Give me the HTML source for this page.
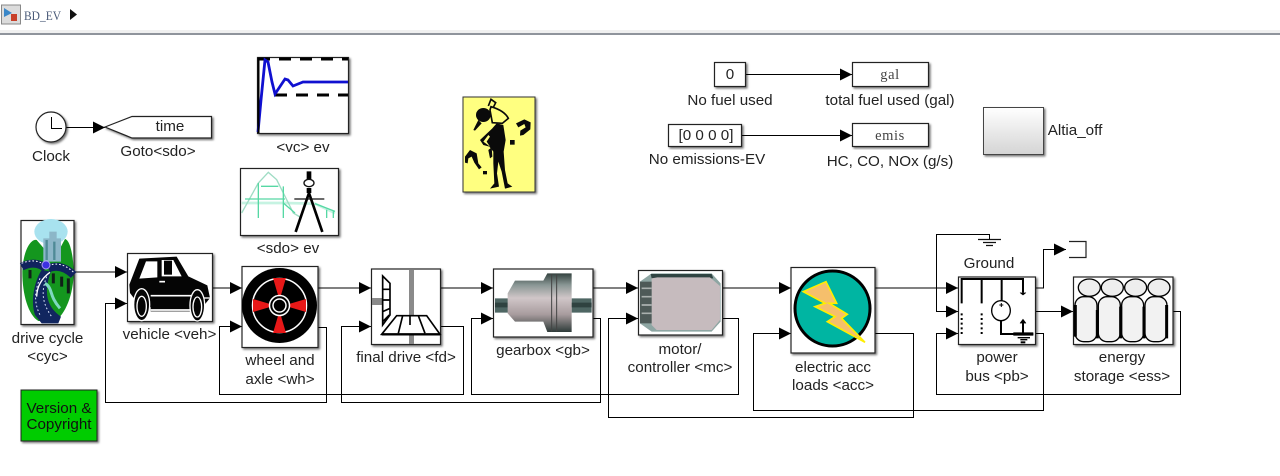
<!DOCTYPE html>
<html><head><meta charset="utf-8"><style>
html,body{margin:0;padding:0;background:#fff;width:1280px;height:476px;overflow:hidden}
svg{display:block}
text{font-family:"Liberation Sans",sans-serif;font-size:15.2px;fill:#222;text-anchor:middle}
.w{fill:none;stroke:#000;stroke-width:1}
.b{stroke:#222;stroke-width:1.2;fill:#fff;filter:url(#s)}
.r{font-family:"Liberation Serif",serif;font-size:14.5px;fill:#444;letter-spacing:.6px}
</style></head><body>
<svg width="1280" height="476" viewBox="0 0 1280 476" xmlns="http://www.w3.org/2000/svg">
<defs>
<filter id="s" x="-10%" y="-10%" width="125%" height="125%"><feDropShadow dx="1.5" dy="1.5" stdDeviation="1" flood-color="#000" flood-opacity=".55"/></filter>
<linearGradient id="g" x1="0" y1="0" x2="0" y2="1"><stop offset="0" stop-color="#fff"/><stop offset="1" stop-color="#d4d4d4"/></linearGradient>
<linearGradient id="gb" x1="0" y1="0" x2="0" y2="1"><stop offset="0" stop-color="#33423f"/><stop offset=".2" stop-color="#8a9795"/><stop offset=".42" stop-color="#d0c6c8"/><stop offset=".7" stop-color="#a89c9e"/><stop offset="1" stop-color="#2e3b39"/></linearGradient>
<marker id="a" markerWidth="12" markerHeight="12" refX="12" refY="6" orient="auto" markerUnits="userSpaceOnUse"><path d="M0,0L12,6L0,12Z" fill="#000"/></marker>
</defs>

<!-- toolbar -->
<rect x="0" y="30" width="1280" height="3" fill="#f0f0f0"/>
<rect x="0" y="33" width="1280" height="2" fill="#8f949c"/>
<rect x="1.500" y="5" width="19" height="19" fill="#dcdcdc" stroke="#888"/>
<path d="M4,8L12,13L4,17Z" fill="#3a87c8"/><rect x="11" y="14" width="6" height="7" fill="#c8402a"/>
<text x="24" y="20" textLength="37" lengthAdjust="spacingAndGlyphs" style="font-family:'Liberation Serif',serif;font-size:13px;fill:#4a5a78;text-anchor:start">BD_EV</text>
<path d="M70,9L77,14.500L70,20Z" fill="#111"/>

<!-- wires -->
<g class="w">
<path d="M66,127.500H105" marker-end="url(#a)"/>
<path d="M74,272H127" marker-end="url(#a)"/>
<path d="M318,327.500H326.500V402.500H105.500V303.500H127" marker-end="url(#a)"/>
<path d="M212,288H242" marker-end="url(#a)"/>
<path d="M440,326.500H463.500V394.500H219.500V326.500H242" marker-end="url(#a)"/>
<path d="M318,288H371" marker-end="url(#a)"/>
<path d="M593,318.500H600.500V402.500H341.500V326.500H371" marker-end="url(#a)"/>
<path d="M440,288H493" marker-end="url(#a)"/>
<path d="M722,318.500H738.500V394.500H471.500V318.500H493" marker-end="url(#a)"/>
<path d="M593,288H638" marker-end="url(#a)"/>
<path d="M875,333.500H913.500V417.500H608.500V318.500H638" marker-end="url(#a)"/>
<path d="M722,288H791" marker-end="url(#a)"/>
<path d="M1035,333.500H1043.500V410.500H753.500V333.500H791" marker-end="url(#a)"/>
<path d="M875,288H958" marker-end="url(#a)"/>
<path d="M989.500,240V234.500H936.500V311.500H958" marker-end="url(#a)"/>
<path d="M1172,311.500H1180.500V394.500H936.500V333.500H958" marker-end="url(#a)"/>
<path d="M1035,311.500H1073" marker-end="url(#a)"/>
<path d="M1035,288H1043.500V249.500H1066" marker-end="url(#a)"/>
<path d="M746,74.500H852" marker-end="url(#a)"/>
<path d="M742,135.500H852" marker-end="url(#a)"/>
<path d="M978,239.500H1001M983,242.500H996M986,245.500H993" stroke="#111" stroke-width="1.300"/>
<path d="M1069,241.500H1086V257.500H1069" stroke="#222" stroke-width="1.200"/>
</g>

<!-- clock -->
<circle cx="51" cy="127" r="15" class="b"/>
<path d="M51.500,117V128.500H62" class="w"/>
<text x="51" y="161">Clock</text>
<!-- goto -->
<path d="M105,127L132,116.500H211.500V138H132Z" class="b"/>
<text x="170" y="131">time</text>
<text x="158" y="156">Goto&lt;sdo&gt;</text>

<!-- scope -->
<rect x="257.500" y="57.500" width="91" height="76" class="b"/>
<path d="M258,59H348" stroke="#000" stroke-width="3" stroke-dasharray="12 9" fill="none"/>
<path d="M275,95H348" stroke="#000" stroke-width="3" stroke-dasharray="12 9" fill="none"/>
<path d="M258,132L261,100L265,60L268,62L272,82L275,94L279,88L285,79L288,80L293,86L298,84L303,82H348" fill="none" stroke="#1010d0" stroke-width="2.800"/>
<path d="M258.500,58V133" stroke="#000" stroke-width="2"/>
<text x="303" y="152">&lt;vc&gt; ev</text>

<!-- sdo -->
<rect x="240.500" y="168.500" width="98" height="67" class="b"/>
<g transform="translate(235,163) scale(.3333)">
<path d="M20,120H150L240,122L300,150" fill="none" stroke="#c6f3e2" stroke-width="8"/>
<path d="M20,150L70,60L100,28L125,50L175,150L200,165" fill="none" stroke="#9fdcc4" stroke-width="4"/>
<path d="M70,60V165M145,70V165M78,70H130M30,108H150M275,140V165M295,145V165M145,120L180,150M240,122L300,145" fill="none" stroke="#56d8a4" stroke-width="4"/>
<path d="M222,25V50M222,75V90" stroke="#000" stroke-width="14"/>
<ellipse cx="222" cy="60" rx="15" ry="11" fill="none" stroke="#111" stroke-width="4"/>
<path d="M222,90L182,207M222,90L262,207" stroke="#000" stroke-width="8" fill="none"/>
<path d="M178,108H268" stroke="#111" stroke-width="4"/>
</g>
<text x="288" y="253">&lt;sdo&gt; ev</text>

<!-- yellow figure -->
<rect x="463" y="97" width="72" height="95" fill="#ffff80" stroke="#333" filter="url(#s)"/>
<g transform="translate(455,90) scale(.3333)" fill="#0a0a0a" stroke="none">
<ellipse cx="85" cy="75" rx="22" ry="21"/>
<path d="M70,90L55,120L60,122L80,100Z"/>
<path d="M125,100L145,105L152,150L146,185L150,240L158,280L172,290L150,296L140,245L130,215L126,250L132,290L105,296L118,280L115,220L115,185L103,170L85,165L75,150L112,115Z"/>
<path d="M85,155L100,135L105,140L95,155L105,170Z" fill="#ffff80"/>
<path d="M100,180L110,172L112,200L105,205Z"/>
<path d="M183,100L208,88L227,97L226,118L205,135L195,137L196,122L212,112L208,102L190,112Z"/>
<rect x="165" y="150" width="14" height="14"/>
<path d="M30,200L45,180L65,190L70,220L80,232L72,238L58,218L50,200L40,205L38,220L30,218Z"/>
<rect x="84" y="243" width="12" height="10"/>
</g>
<g transform="translate(455,90) scale(.3333)" fill="none" stroke="#0a0a0a" stroke-width="5">
<path d="M108,50C125,55 150,65 160,85L142,100L112,98L105,60ZM100,48L108,28L122,38L115,52"/>
</g>

<!-- constants -->
<rect x="714.500" y="62.500" width="31" height="24" class="b"/>
<text x="730" y="79">0</text>
<text x="730" y="105">No fuel used</text>
<rect x="852.500" y="62.500" width="76" height="24" class="b"/>
<text x="890" y="79" class="r">gal</text>
<text x="890" y="105">total fuel used (gal)</text>
<rect x="668.500" y="124.500" width="73" height="22" class="b"/>
<text x="706" y="140">[0 0 0 0]</text>
<text x="707" y="164">No emissions-EV</text>
<rect x="852.500" y="123.500" width="76" height="23" class="b"/>
<text x="890" y="140" class="r">emis</text>
<text x="890" y="166">HC, CO, NOx (g/s)</text>
<rect x="983.500" y="107.500" width="60" height="47" fill="url(#g)" stroke="#444" filter="url(#s)"/>
<text x="1075" y="135">Altia_off</text>

<!-- drive cycle -->
<rect x="21" y="220.500" width="53" height="104" class="b"/>
<g transform="translate(15,215) scale(.3333)">
<ellipse cx="108" cy="50" rx="50" ry="38" fill="#a8e2ef"/>
<path d="M22,170C25,100 50,70 65,75L95,110L135,100L150,72C165,75 175,120 176,170C176,240 150,300 120,318H70C40,300 22,240 22,170Z" fill="#14961e"/>
<path d="M85,140V70H103V50H125V70H138V140Z" fill="#8cb6c8"/>
<path d="M95,75V135M118,80V135" stroke="#4f8a96" stroke-width="7"/>
<path d="M20,155C50,140 75,145 92,160M100,160C125,150 150,155 176,180" fill="none" stroke="#10225e" stroke-width="24"/>
<path d="M20,145C50,132 75,138 92,152M100,152C125,142 150,148 176,172" fill="none" stroke="#fff" stroke-width="3" stroke-dasharray="5 6"/>
<path d="M45,165V190M140,185V215M115,175V205M160,190V235" stroke="#102018" stroke-width="9"/>
<path d="M80,165C60,195 45,255 60,300L80,325H130L138,305C110,285 78,250 108,170Z" fill="#11265f"/>
<path d="M75,190C60,225 55,260 75,300M95,185C80,225 78,260 110,305" fill="none" stroke="#dfe9ff" stroke-width="3" stroke-dasharray="5 7"/>
<path d="M105,172C80,190 66,215 65,245" fill="none" stroke="#fff" stroke-width="4"/>
<path d="M90,205C115,220 100,240 135,280" fill="none" stroke="#7fd8c0" stroke-width="9"/>
<circle cx="93" cy="150" r="12" fill="#3c30e0" stroke="#a99cf5" stroke-width="3"/>
</g>
<text x="47.500" y="343">drive cycle</text>
<text x="47.500" y="361">&lt;cyc&gt;</text>

<!-- vehicle -->
<rect x="127.500" y="253.500" width="85" height="68" class="b"/>
<g transform="translate(120,248) scale(.3333)">
<path d="M28,110L58,32L170,26L205,85L262,112L270,150L252,172L252,190H92V178L45,155L30,135Z" fill="#050505"/>
<path d="M58,92L78,40H112V88ZM125,36H160L185,85H125Z" fill="#fff"/>
<rect x="132" y="38" width="24" height="42" fill="#050505"/>
<path d="M50,90L72,38M168,35L195,88" stroke="#050505" stroke-width="7"/>
<path d="M118,101H135" stroke="#fff" stroke-width="5"/>
<path d="M92,143H215M92,186H215" stroke="#fff" stroke-width="5"/>
<path d="M245,150H270" stroke="#fff" stroke-width="4"/>
<ellipse cx="65" cy="170" rx="24" ry="48" fill="#050505" stroke="#fff" stroke-width="4"/>
<ellipse cx="232" cy="172" rx="22" ry="47" fill="#050505" stroke="#fff" stroke-width="4"/>
<ellipse cx="65" cy="175" rx="14" ry="30" fill="none" stroke="#fff" stroke-width="4"/>
<ellipse cx="232" cy="177" rx="13" ry="30" fill="none" stroke="#fff" stroke-width="4"/>
</g>
<text x="169.500" y="339">vehicle &lt;veh&gt;</text>

<!-- wheel -->
<rect x="242" y="266.500" width="76" height="81" class="b"/>
<circle cx="279.500" cy="305.500" r="37.500" fill="#000"/>
<circle cx="279.500" cy="305.500" r="27" fill="#000" stroke="#fff" stroke-width="1.500"/>
<path d="M273,278H286L281,295H278ZM273,333H286L281,316H278ZM253,299V312L270,307V304ZM306,299V312L289,307V304Z" fill="#e81818"/>
<circle cx="279.500" cy="305.500" r="10" fill="#000" stroke="#fff" stroke-width="1.500"/>
<circle cx="279.500" cy="305.500" r="6.500" fill="#000" stroke="#fff" stroke-width="1.500"/>
<text x="280" y="365">wheel and</text>
<text x="280" y="384">axle &lt;wh&gt;</text>

<!-- final drive -->
<rect x="371.500" y="269" width="69" height="75.500" class="b"/>
<rect x="409" y="270" width="5" height="74" fill="#8a8a8a"/>
<rect x="372" y="298" width="10" height="7" fill="#8a8a8a"/>
<g transform="translate(330,250) scale(.3333)" fill="none" stroke="#000" stroke-width="5">
<path d="M158,78L180,100V195L158,225ZM158,118L180,118M158,150L180,150M158,185L180,175M158,215L178,195" fill="#fff"/>
<path d="M155,253L200,197H290L330,253Z" fill="#fff"/>
<path d="M205,250L218,197M265,197L285,250M240,197V225"/>
<path d="M155,253H330" stroke-width="7"/>
</g>
<text x="406" y="362">final drive &lt;fd&gt;</text>

<!-- gearbox -->
<rect x="493.500" y="269" width="99.500" height="68" class="b"/>
<g transform="translate(330,250) scale(.3333)">
<path d="M495,145H535V188H495ZM725,145H785V188H725Z" fill="#4e6663"/>
<path d="M495,165H535M725,165H785" stroke="#2f4240" stroke-width="14"/>
<path d="M533,130L555,92H640L652,70H725V246H652L640,215H555L533,190Z" fill="url(#gb)"/>
<path d="M665,72V245M680,72V245" stroke="#444" stroke-width="3"/>
</g>
<text x="543" y="355">gearbox &lt;gb&gt;</text>

<!-- motor -->
<rect x="638.500" y="270.500" width="84" height="64.500" class="b"/>
<g transform="translate(330,250) scale(.3333)">
<path d="M930,95L965,70H1145L1172,100V215L1145,245H965L930,220Z" fill="#8ea6a3"/>
<path d="M962,72H1145L1150,85H965Z" fill="#304442"/>
<path d="M965,85L982,82H1140L1170,108V210L1145,240H980L965,225Z" fill="#c6bbbe"/>
<rect x="930" y="95" width="35" height="125" fill="#4e5a58"/>
<path d="M935,115H965M935,140H965M935,165H965M935,190H965" stroke="#a9b0ae" stroke-width="5"/>
</g>
<text x="680" y="354">motor/</text>
<text x="680" y="372">controller &lt;mc&gt;</text>

<!-- electric -->
<rect x="791" y="267.500" width="84" height="85.500" class="b"/>
<circle cx="832.500" cy="308.500" r="37.500" fill="#00b5a2" stroke="#000" stroke-width="3"/>
<g transform="translate(740,225) scale(.3333)">
<path d="M190,200L258,170L290,235L268,235L322,268L305,280L375,352L262,290L285,275L225,245L255,235Z" fill="#f5bf6c" stroke="#ffee00" stroke-width="5"/>
</g>
<text x="833" y="372">electric acc</text>
<text x="833" y="390">loads &lt;acc&gt;</text>

<!-- ground label -->
<text x="989" y="268">Ground</text>

<!-- power bus -->
<rect x="958.500" y="277" width="77" height="67.500" class="b"/>
<g transform="translate(950,270) scale(.3333)" fill="none" stroke="#000" stroke-width="6">
<path d="M35,100V27H222M95,27V100M155,27V92M219,27V68"/>
<path d="M35,130V192M95,130V192" stroke-dasharray="6 8"/>
<ellipse cx="153" cy="122" rx="28" ry="30" stroke-width="4"/>
<path d="M153,152V192H250" />
<path d="M190,192H250" stroke-width="10"/>
<path d="M219,188V152"/>
<path d="M210,68L219,75L228,68M210,160L219,148L228,160" fill="#000" stroke-width="2"/>
<path d="M203,203H240M211,209H232" stroke-width="4"/>
<path d="M212,217H226" stroke-width="6"/>
<path d="M148,105H160M154,99V111" stroke-width="3"/>
</g>
<text x="997" y="362">power</text>
<text x="997" y="381">bus &lt;pb&gt;</text>

<!-- energy storage -->
<rect x="1073.500" y="277" width="99.500" height="67.500" class="b"/>
<g transform="translate(950,270) scale(.3333)" stroke="#000">
<g fill="#eee" stroke-width="4">
<ellipse cx="418" cy="53" rx="33" ry="26"/><ellipse cx="487" cy="53" rx="33" ry="26"/><ellipse cx="557" cy="53" rx="33" ry="26"/><ellipse cx="627" cy="53" rx="33" ry="26"/>
</g>
<g fill="#f2f2f2" stroke-width="4">
<rect x="375" y="80" width="66" height="135" rx="26"/><rect x="445" y="80" width="66" height="135" rx="26"/><rect x="515" y="80" width="66" height="135" rx="26"/><rect x="585" y="80" width="66" height="135" rx="26"/>
</g>
<path d="M376,105V200M442,120V205M512,110V205M582,110V205M650,105V205" stroke-width="9" fill="none"/>
</g>
<text x="1122" y="362">energy</text>
<text x="1122" y="381">storage &lt;ess&gt;</text>

<!-- version -->
<rect x="21" y="390" width="76" height="51" fill="#00cc00" stroke="#222" filter="url(#s)"/>
<text x="59" y="413" style="fill:#111">Version &amp;</text>
<text x="59" y="429" style="fill:#111">Copyright</text>
</svg>
</body></html>
